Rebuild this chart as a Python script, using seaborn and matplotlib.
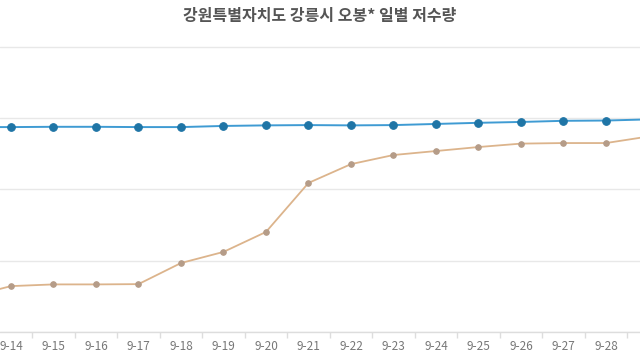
import pandas as pd
import matplotlib.pyplot as plt
import seaborn as sns
from matplotlib.ticker import FixedLocator

# ── DATA ──────────────────────────────────
dates = ['9-13', '9-14', '9-15', '9-16', '9-17', '9-18', '9-19', '9-20', '9-21',
         '9-22', '9-23', '9-24', '9-25', '9-26', '9-27', '9-28', '9-29']
normal_year = [71.9, 71.9, 72.0, 72.0, 71.9, 71.9, 72.3, 72.5, 72.6,
               72.5, 72.6, 73.0, 73.4, 73.7, 74.1, 74.2, 74.6]
this_year = [12.3, 16.1, 16.7, 16.7, 16.8, 24.2, 28.1, 35.1, 52.3,
             58.9, 62.1, 63.5, 64.9, 66.1, 66.3, 66.3, 68.6]

df = pd.DataFrame({'date': dates, 'normal': normal_year, 'current': this_year})

# ── STYLE ─────────────────────────────────
sns.set_theme(style='white')
plt.rcParams['font.family'] = ['Noto Sans CJK KR', 'DejaVu Sans']

fig = plt.figure(figsize=(6.4, 3.6), dpi=100)
# axes fill the full width (chart is cropped on both sides)
ax = fig.add_axes([0, 28 / 360, 1, 285 * 1.02 / 360])

sns.lineplot(data=df, x='date', y='normal', ax=ax, color='#3f9bd3', linewidth=1.4,
             marker='o', markersize=5.5, markerfacecolor='#1f75a6',
             markeredgecolor='#1f75a6', sort=False)
sns.lineplot(data=df, x='date', y='current', ax=ax, color='#dcb48c', linewidth=1.3,
             marker='o', markersize=4, markerfacecolor='#b59c88',
             markeredgecolor='#b59c88', sort=False)

# ── AXES ──────────────────────────────────
ax.set_yticks([0, 25, 50, 75, 100])
ax.yaxis.grid(True, color='#e8e8e8', linewidth=1)
ax.tick_params(axis='y', left=False, labelleft=False)

ax.set_xticks(range(len(dates)))
ax.set_xticklabels(dates, fontsize=8.5, color='#777777')
ax.xaxis.set_minor_locator(FixedLocator([i + 0.5 for i in range(-1, len(dates))]))
ax.tick_params(axis='x', which='major', length=0, pad=6)
ax.tick_params(axis='x', which='minor', length=4, color='#dddddd', bottom=True)

# limits after the ticks, so set_xticks does not widen them
ax.set_xlim(0.742, 15.8)
ax.set_ylim(0, 102)

for side in ['top', 'left', 'right']:
    ax.spines[side].set_visible(False)
ax.spines['bottom'].set_color('#dddddd')
ax.spines['bottom'].set_linewidth(1)
ax.set_xlabel('')
ax.set_ylabel('')

fig.text(0.5, 1 - 16 / 360, '강원특별자치도 강릉시 오봉* 일별 저수량', ha='center', va='center',
         fontsize=11.5, fontweight='bold', color='#555555')

fig.savefig('out.png', dpi=100)
